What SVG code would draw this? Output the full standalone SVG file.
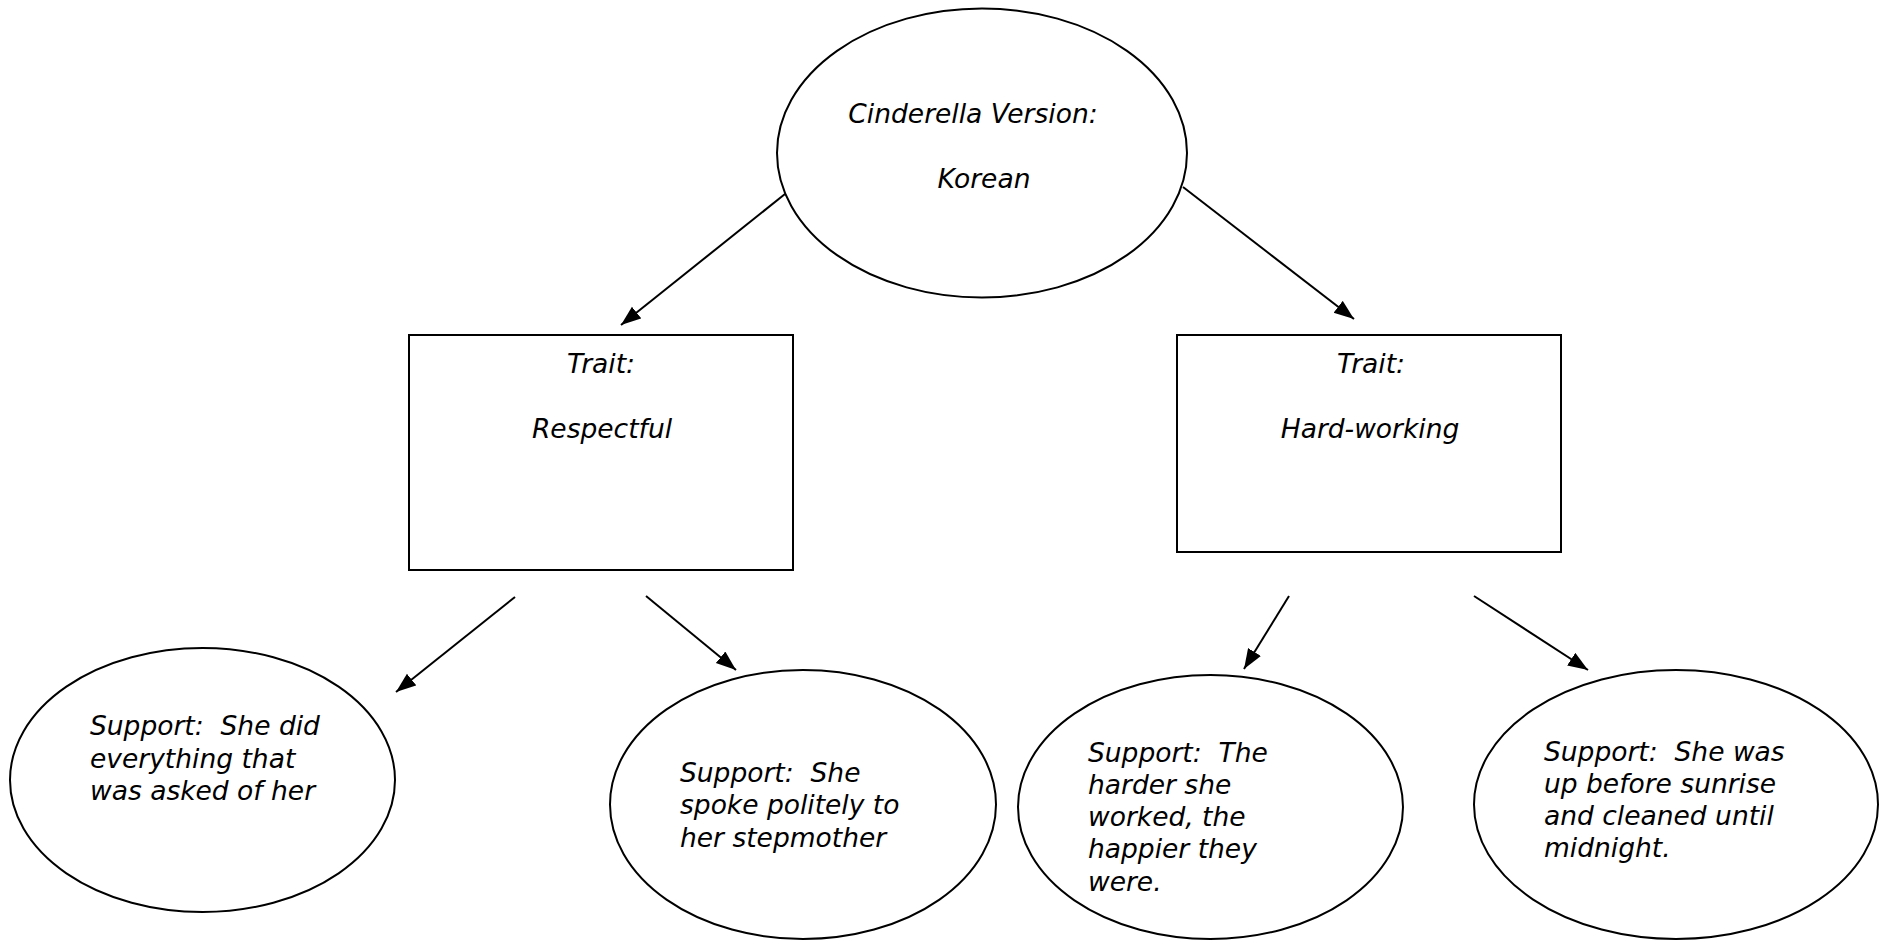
<svg xmlns="http://www.w3.org/2000/svg" width="1889" height="941" viewBox="0 0 1889 941" xml:space="preserve">
<style>
.shape{fill:#fff;stroke:#000;stroke-width:2}
.t{font-family:"DejaVu Sans","Liberation Sans",sans-serif;font-style:italic;font-size:26.5px;fill:#000;white-space:pre}
.m{text-anchor:middle}
.c{stroke:#000;stroke-width:2;fill:none;marker-end:url(#ah)}
</style>
<defs>
<marker id="ah" markerUnits="userSpaceOnUse" markerWidth="22" markerHeight="16" refX="20" refY="7.5" orient="auto">
<path d="M0,0 L20,7.5 L0,15 z" fill="#000"/>
</marker>
</defs>
<rect width="1889" height="941" fill="#fff"/>
<g id="connectors">
<line class="c" x1="785" y1="194" x2="621" y2="325"/>
<line class="c" x1="1183" y1="187" x2="1354" y2="319"/>
<line class="c" x1="515" y1="597" x2="396" y2="692"/>
<line class="c" x1="646" y1="596" x2="736" y2="670"/>
<line class="c" x1="1289" y1="596" x2="1244" y2="669"/>
<line class="c" x1="1474" y1="596" x2="1588" y2="670"/>
</g>
<g id="root">
<ellipse class="shape" cx="982" cy="153" rx="205" ry="144.5"/>
<text class="t m" x="973" y="123">Cinderella Version:</text>
<text class="t m" x="984" y="188">Korean</text>
</g>
<g id="trait-respectful">
<rect class="shape" x="409" y="335" width="384" height="235"/>
<text class="t m" x="601" y="373">Trait:</text>
<text class="t m" x="602" y="438">Respectful</text>
</g>
<g id="trait-hardworking">
<rect class="shape" x="1177" y="335" width="384" height="217"/>
<text class="t m" x="1371" y="373">Trait:</text>
<text class="t m" x="1370" y="438">Hard-working</text>
</g>
<g id="support-1">
<ellipse class="shape" cx="202.5" cy="780" rx="192.5" ry="132"/>
<text class="t" x="90" y="735">Support:  She did</text>
<text class="t" x="90" y="768">everything that</text>
<text class="t" x="90" y="800">was asked of her</text>
</g>
<g id="support-2">
<ellipse class="shape" cx="803" cy="804.5" rx="193" ry="134.5"/>
<text class="t" x="680" y="782">Support:  She</text>
<text class="t" x="680" y="814">spoke politely to</text>
<text class="t" x="680" y="847">her stepmother</text>
</g>
<g id="support-3">
<ellipse class="shape" cx="1210.5" cy="807" rx="192.5" ry="132"/>
<text class="t" x="1088" y="762">Support:  The</text>
<text class="t" x="1088" y="794">harder she</text>
<text class="t" x="1088" y="826">worked, the</text>
<text class="t" x="1088" y="858">happier they</text>
<text class="t" x="1088" y="891">were.</text>
</g>
<g id="support-4">
<ellipse class="shape" cx="1676" cy="804.5" rx="202" ry="134.5"/>
<text class="t" x="1544" y="761">Support:  She was</text>
<text class="t" x="1544" y="793">up before sunrise</text>
<text class="t" x="1544" y="825">and cleaned until</text>
<text class="t" x="1544" y="857">midnight.</text>
</g>
</svg>
